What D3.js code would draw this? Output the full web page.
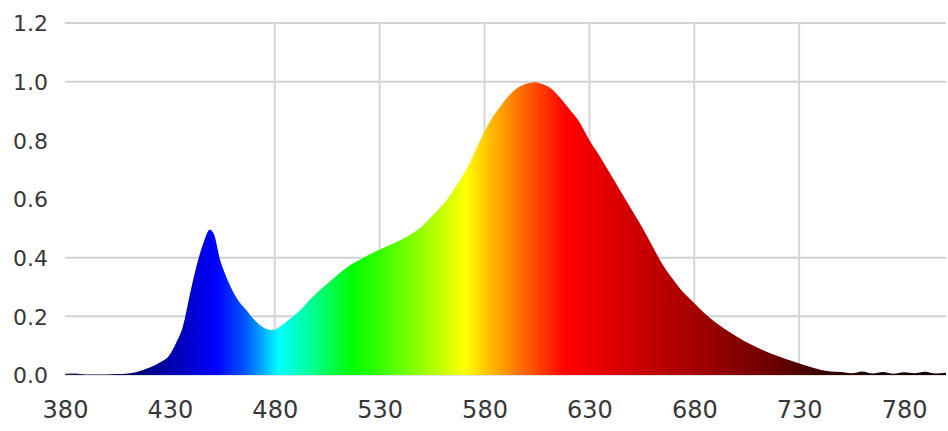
<!DOCTYPE html>
<html>
<head>
<meta charset="utf-8">
<script src="https://cdn.jsdelivr.net/npm/d3@7"></script>
<style>
  body { margin: 0; background: #fff; }
  svg { display: block; }
  .tick text { fill: #383838; font-family: "DejaVu Sans", Verdana, sans-serif; }
</style>
</head>
<body>
<svg id="chart"></svg>
<script>
// spectrum samples (nm -> relative intensity)
const wavelengths = [380, 385, 390, 395, 400, 405, 410, 415, 420, 425, 430, 433, 436, 440, 443, 446, 449, 451, 454, 456, 459, 463, 466, 470, 475, 479, 483, 487, 492, 498, 504, 511, 516, 521, 527, 533, 540, 549, 556, 562, 567, 572, 576, 580, 584, 588, 592, 596, 600, 604, 608, 612, 616, 620, 625, 630, 635, 640, 645, 650, 655, 660, 665, 670, 675, 680, 685, 690, 696, 704, 712, 720, 728, 735, 740, 745, 750, 755, 760, 765, 770, 775, 780, 785, 790, 795, 800];
const intensity = [0.004, 0.005, 0.002, 0.002, 0.002, 0.003, 0.005, 0.012, 0.025, 0.042, 0.07, 0.11, 0.16, 0.29, 0.38, 0.45, 0.495, 0.48, 0.39, 0.35, 0.3, 0.25, 0.225, 0.19, 0.16, 0.153, 0.168, 0.19, 0.22, 0.266, 0.305, 0.348, 0.375, 0.395, 0.418, 0.437, 0.46, 0.5, 0.55, 0.597, 0.65, 0.71, 0.77, 0.83, 0.88, 0.92, 0.955, 0.98, 0.993, 0.998, 0.99, 0.975, 0.945, 0.91, 0.865, 0.8, 0.745, 0.685, 0.625, 0.565, 0.505, 0.44, 0.375, 0.325, 0.28, 0.245, 0.21, 0.18, 0.15, 0.115, 0.087, 0.064, 0.044, 0.028, 0.018, 0.012, 0.01, 0.006, 0.012, 0.005, 0.01, 0.004, 0.009, 0.006, 0.011, 0.005, 0.008];

// spectral colour stops
const stopWl = [380, 400, 415, 425, 440, 452, 465, 474, 482, 498, 517, 536, 555, 571, 587, 603, 619, 651, 683, 715, 738, 760, 800];
const stopColor = ['#30304a', '#000050', '#000070', '#00009a', '#0000d0', '#0000ff', '#0050ff', '#00a8ff', '#00ffff', '#00ff90', '#00ff00', '#50ff00', '#b0ff00', '#ffff00', '#ffa500', '#ff5000', '#ff0000', '#d00000', '#a00000', '#700000', '#400000', '#200000', '#100000'];

const xTicks = [380, 430, 480, 530, 580, 630, 680, 730, 780];
const yTicks = [0, 0.2, 0.4, 0.6, 0.8, 1.0, 1.2];
const xGrid = [480, 530, 580, 630, 680, 730];
const yGrid = [0.2, 0.4, 1.0, 1.2];

const width = 948, height = 431;
const margin = { top: 23, right: 2, bottom: 56, left: 65 };

const svg = d3.select('#chart')
  .attr('width', width)
  .attr('height', height);

const x = d3.scaleLinear()
  .domain([380, 800])
  .range([margin.left, width - margin.right]);
const y = d3.scaleLinear()
  .domain([0, 1.2])
  .range([height - margin.bottom, margin.top]);

// gradient along wavelength
const grad = svg.append('defs').append('linearGradient')
  .attr('id', 'spec')
  .attr('gradientUnits', 'userSpaceOnUse')
  .attr('x1', x(380)).attr('x2', x(800))
  .attr('y1', 0).attr('y2', 0);
grad.selectAll('stop')
  .data(stopWl)
  .enter()
  .append('stop')
  .attr('offset', function(d) { return (x(d) - x(380)) / (x(800) - x(380)); })
  .attr('stop-color', function(d, i) { return stopColor[i]; });

// grid
svg.append('g')
  .selectAll('line')
  .data(yGrid)
  .enter()
  .append('line')
  .attr('x1', x(380)).attr('x2', x(800))
  .attr('y1', function(d) { return y(d); })
  .attr('y2', function(d) { return y(d); })
  .attr('stroke', '#d2d2d2')
  .attr('stroke-width', 2);
svg.append('g')
  .selectAll('line')
  .data(xGrid)
  .enter()
  .append('line')
  .attr('x1', function(d) { return x(d); })
  .attr('x2', function(d) { return x(d); })
  .attr('y1', y(1.2)).attr('y2', y(0))
  .attr('stroke', '#d6d6d6')
  .attr('stroke-width', 2);

// baseline
svg.append('line')
  .attr('x1', x(380)).attr('x2', x(800))
  .attr('y1', y(0)).attr('y2', y(0))
  .attr('stroke', '#d8d8d8')
  .attr('stroke-width', 1.5);

// spectrum area
const area = d3.area()
  .x(function(d, i) { return x(wavelengths[i]); })
  .y0(y(0))
  .y1(function(d) { return y(d); })
  .curve(d3.curveMonotoneX);
svg.append('path')
  .datum(intensity)
  .attr('fill', 'url(#spec)')
  .attr('d', area);

// axes
const yAxis = d3.axisLeft(y)
  .tickValues(yTicks)
  .tickSize(0)
  .tickPadding(17)
  .tickFormat(d3.format('.1f'));
const gy = svg.append('g')
  .attr('transform', 'translate(' + margin.left + ',0)')
  .call(yAxis);
gy.select('.domain').remove();
gy.selectAll('text').attr('font-size', '22px').attr('dy', '0.36em');

const xAxis = d3.axisBottom(x)
  .tickValues(xTicks)
  .tickSize(0)
  .tickPadding(26);
const gx = svg.append('g')
  .attr('transform', 'translate(0,' + y(0) + ')')
  .call(xAxis);
gx.select('.domain').remove();
gx.selectAll('text').attr('font-size', '24px');
</script>
</body>
</html>
